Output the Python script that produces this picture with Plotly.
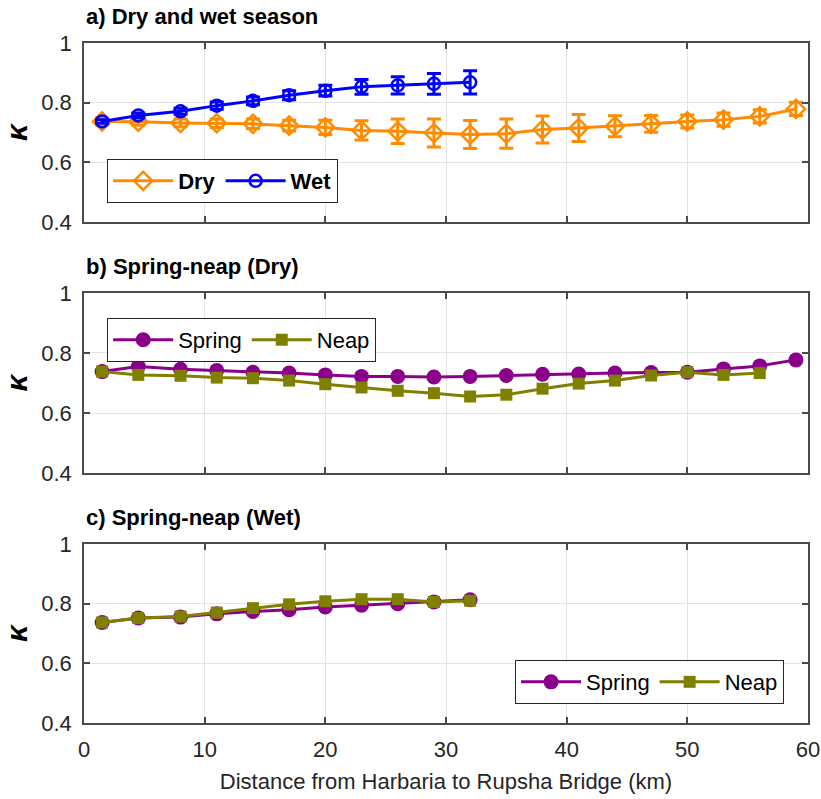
import plotly.graph_objects as go

# ---------------- data ----------------
dist_dry = [1.5, 4.5, 8, 11, 14, 17, 20, 23, 26, 29, 32, 35, 38, 41, 44, 47, 50, 53, 56, 59]
dist_wet = [1.5, 4.5, 8, 11, 14, 17, 20, 23, 26, 29, 32]

k_dry = [0.737, 0.736, 0.732, 0.731, 0.729, 0.723, 0.717, 0.707, 0.704, 0.698, 0.693,
         0.696, 0.710, 0.715, 0.721, 0.729, 0.737, 0.743, 0.754, 0.779]
err_dry = [0.012, 0.012, 0.013, 0.014, 0.016, 0.018, 0.024, 0.032, 0.041, 0.047, 0.047,
           0.049, 0.045, 0.045, 0.035, 0.028, 0.022, 0.022, 0.022, 0.022]

k_wet = [0.737, 0.757, 0.771, 0.790, 0.806, 0.825, 0.840, 0.853, 0.858, 0.863, 0.868]
err_wet = [0.006, 0.008, 0.010, 0.012, 0.013, 0.015, 0.018, 0.0245, 0.029, 0.035, 0.039]

dist_spring_dry = dist_dry
k_spring_dry = [0.738, 0.755, 0.746, 0.742, 0.736, 0.733, 0.727, 0.722, 0.722, 0.720, 0.722,
                0.725, 0.729, 0.730, 0.733, 0.735, 0.736, 0.747, 0.757, 0.777]
dist_neap_dry = dist_dry[:-1]
k_neap_dry = [0.738, 0.727, 0.724, 0.718, 0.716, 0.708, 0.696, 0.685, 0.674, 0.666, 0.655,
              0.661, 0.681, 0.698, 0.708, 0.725, 0.736, 0.727, 0.733]

dist_spring_wet = dist_wet
k_spring_wet = [0.737, 0.752, 0.755, 0.766, 0.774, 0.780, 0.789, 0.795, 0.800, 0.806, 0.813]
dist_neap_wet = dist_wet
k_neap_wet = [0.737, 0.752, 0.757, 0.770, 0.785, 0.798, 0.808, 0.815, 0.815, 0.806, 0.810]

titles = ["a) Dry and wet season", "b) Spring-neap (Dry)", "c) Spring-neap (Wet)"]
x_ticks = [0, 10, 20, 30, 40, 50, 60]
y_ticks = [0.4, 0.6, 0.8, 1.0]
y_tick_text = ["0.4", "0.6", "0.8", "1"]
x_label = "Distance from Harbaria to Rupsha Bridge (km)"
y_label = "<b><i>κ</i></b>"

# ---------------- styles ----------------
FONT = "Liberation Sans, Arial, Helvetica, sans-serif"
ORANGE = "#FF8C00"
BLUE = "#0000FF"
PURPLE = "#8B008B"
OLIVE = "#808000"
AXC = "#4a4a4a"
GRID = "#e3e3e3"
TICKC = "#262626"
FS = 22

fig = go.Figure()

# Panel a
fig.add_trace(go.Scatter(
    x=dist_dry, y=k_dry, name="<b>Dry</b>", mode="lines+markers",
    line=dict(color=ORANGE, width=3),
    marker=dict(symbol="diamond-open", size=14, color=ORANGE, line=dict(width=2.5, color=ORANGE)),
    error_y=dict(type="data", array=err_dry, color=ORANGE, thickness=3, width=7),
    xaxis="x", yaxis="y", legend="legend"))
fig.add_trace(go.Scatter(
    x=dist_wet, y=k_wet, name="<b>Wet</b>", mode="lines+markers",
    line=dict(color=BLUE, width=3),
    marker=dict(symbol="circle-open", size=12, color=BLUE, line=dict(width=2.5, color=BLUE)),
    error_y=dict(type="data", array=err_wet, color=BLUE, thickness=3, width=7),
    xaxis="x", yaxis="y", legend="legend"))

# Panel b
fig.add_trace(go.Scatter(
    x=dist_spring_dry, y=k_spring_dry, name="Spring", mode="lines+markers",
    line=dict(color=PURPLE, width=3),
    marker=dict(symbol="circle", size=15, color=PURPLE),
    xaxis="x2", yaxis="y2", legend="legend2"))
fig.add_trace(go.Scatter(
    x=dist_neap_dry, y=k_neap_dry, name="Neap", mode="lines+markers",
    line=dict(color=OLIVE, width=3),
    marker=dict(symbol="square", size=12, color=OLIVE),
    xaxis="x2", yaxis="y2", legend="legend2"))

# Panel c
fig.add_trace(go.Scatter(
    x=dist_spring_wet, y=k_spring_wet, name="Spring", mode="lines+markers",
    line=dict(color=PURPLE, width=3),
    marker=dict(symbol="circle", size=15, color=PURPLE),
    xaxis="x3", yaxis="y3", legend="legend3"))
fig.add_trace(go.Scatter(
    x=dist_neap_wet, y=k_neap_wet, name="Neap", mode="lines+markers",
    line=dict(color=OLIVE, width=3),
    marker=dict(symbol="square", size=12, color=OLIVE),
    xaxis="x3", yaxis="y3", legend="legend3"))

domains = [[0.7368, 1.0], [0.3676, 0.6324], [0.0, 0.2632]]

def xax(show_labels, anchor):
    return dict(range=[0, 60], tickvals=x_ticks, showticklabels=show_labels,
                ticks="inside", ticklen=6, tickcolor=AXC, tickwidth=1.5,
                showline=True, linecolor=AXC, linewidth=1.5, mirror="allticks",
                showgrid=True, gridcolor=GRID, gridwidth=1, zeroline=False,
                tickfont=dict(family=FONT, size=FS, color=TICKC), automargin=False,
                anchor=anchor, domain=[0, 1], ticklabelstandoff=6)

def yax(dom, anchor):
    return dict(range=[0.4, 1.0], tickvals=y_ticks, ticktext=y_tick_text,
                ticks="inside", ticklen=6, tickcolor=AXC, tickwidth=1.5,
                showline=True, linecolor=AXC, linewidth=1.5, mirror="allticks",
                showgrid=True, gridcolor=GRID, gridwidth=1, zeroline=False,
                tickfont=dict(family=FONT, size=FS, color=TICKC), automargin=False,
                title=dict(text=y_label, font=dict(family=FONT, size=30, color="#000"), standoff=8),
                anchor=anchor, domain=dom, ticklabelstandoff=6)

legend_common = dict(orientation="h", bgcolor="white", bordercolor="#262626", borderwidth=1,
                     xanchor="left", yanchor="top", xref="paper", yref="paper",
                     itemwidth=60, tracegroupgap=0)

fig.update_layout(
    width=821, height=799,
    margin=dict(l=84, r=13, t=43, b=76),
    plot_bgcolor="white", paper_bgcolor="white",
    font=dict(family=FONT, color=TICKC),
    xaxis=xax(False, "y"),
    xaxis2=xax(False, "y2"),
    xaxis3={**xax(True, "y3"),
            "title": dict(text=x_label, font=dict(family=FONT, size=FS, color=TICKC), standoff=12)},
    yaxis=yax(domains[0], "x"),
    yaxis2=yax(domains[1], "x2"),
    yaxis3=yax(domains[2], "x3"),
    legend={**legend_common, "x": 0.032, "y": 0.8294,
            "font": dict(family=FONT, size=FS, color="#000")},
    legend2={**legend_common, "x": 0.032, "y": 0.5956,
             "font": dict(family=FONT, size=FS, color="#000")},
    legend3={**legend_common, "x": 0.9669, "xanchor": "right", "y": 0.0926,
             "font": dict(family=FONT, size=FS, color="#000")},
    showlegend=True,
)

title_y = [1.0, 0.6324, 0.2632]
for t, ty in zip(titles, title_y):
    fig.add_annotation(text="<b>" + t + "</b>", x=0, y=ty, xref="paper", yref="paper",
                       xanchor="left", yanchor="bottom", yshift=12, showarrow=False,
                       font=dict(family=FONT, size=FS, color="#000"))

fig.write_html("out.html")
